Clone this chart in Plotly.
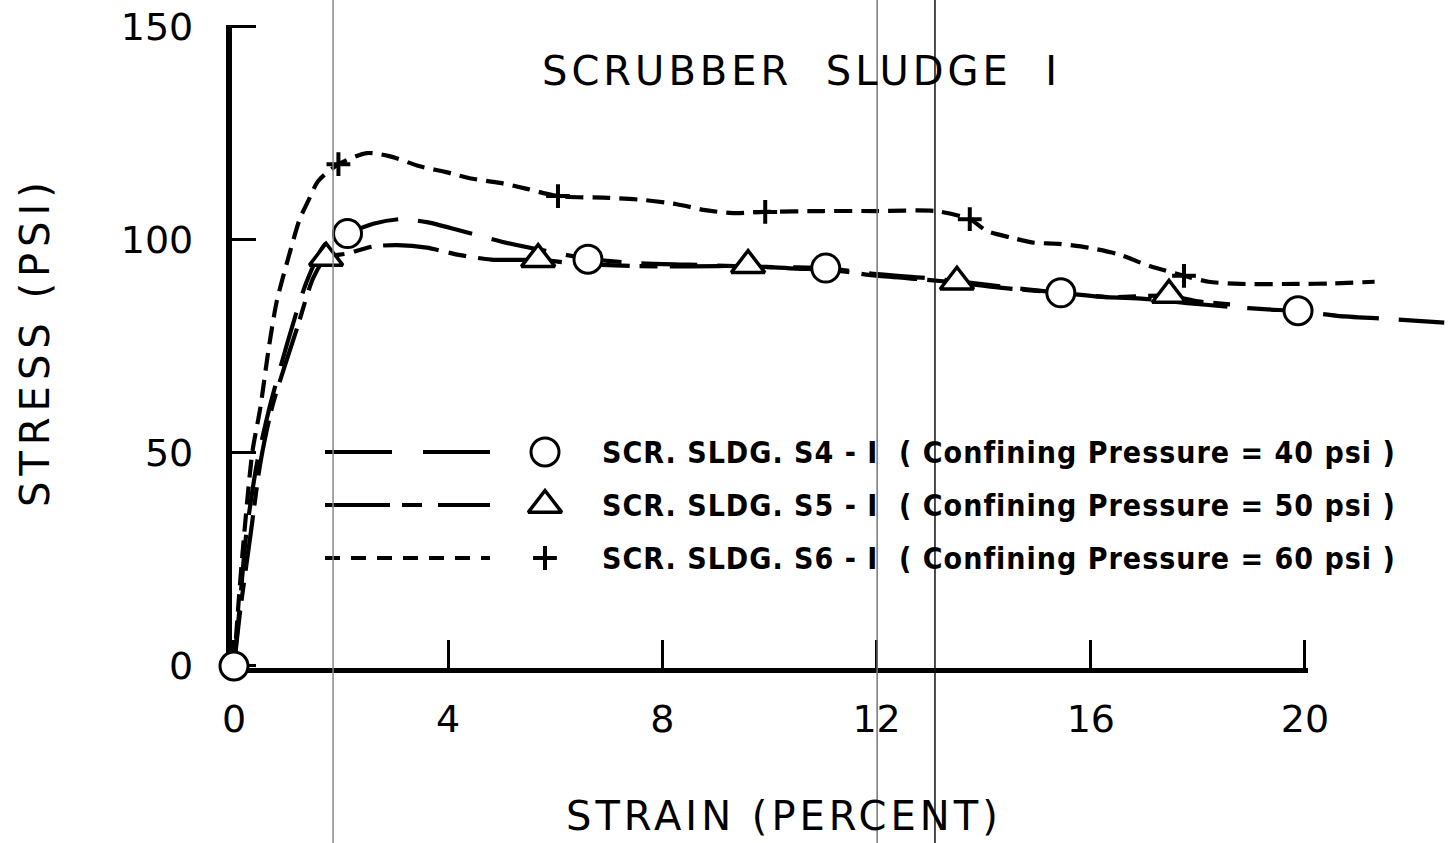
import plotly.graph_objects as go

# ---------------- data ----------------
title_text = "SCRUBBER  SLUDGE  I"
x_title = "STRAIN (PERCENT)"
y_title = "STRESS (PSI)"

x_ticks = [0, 4, 8, 12, 16, 20]
x_tick_labels = ["0", "4", "8", "12", "16", "20"]
y_ticks = [0, 50, 100, 150]
y_tick_labels = ["0", "50", "100", "150"]

# S4-1 (confining pressure 40 psi) - long dash, circles
s4_strain = [0, 0.1, 0.22, 0.42, 0.65, 1.0, 1.35, 1.7, 2.12, 2.6, 3.1, 3.6, 4.2, 5.0, 5.8,
             6.6, 7.5, 8.5, 9.5, 10.3, 11.05, 12.0, 13.0, 14.0, 14.8, 15.44, 16.3, 17.0,
             17.8, 18.6, 19.3, 19.87, 20.6, 21.5, 22.6]
s4_stress = [0, 13, 30, 47, 60, 76, 90, 99, 101.5, 103.8, 104.9, 104.2, 102.3, 99.6, 97.5,
             95.6, 94.6, 94.2, 93.8, 93.6, 93.4, 92.0, 91.0, 89.6, 88.4, 87.6, 86.6, 86.2,
             85.2, 84.3, 83.7, 83.3, 82.2, 81.5, 80.6]
s4_mark_strain = [0, 2.12, 6.61, 11.05, 15.44, 19.87]
s4_mark_stress = [0, 101.5, 95.5, 93.4, 87.6, 83.4]

# S5-1 (confining pressure 50 psi) - long/short dash, triangles
s5_strain = [0, 0.11, 0.32, 0.49, 0.71, 1.18, 1.48, 1.72, 2.1, 2.6, 3.05, 3.6, 4.2, 4.8,
             5.68, 6.5, 7.5, 8.5, 9.6, 10.5, 11.05, 12.0, 13.0, 13.5, 14.3, 15.44, 16.3,
             17.46, 18.0, 18.6]
s5_stress = [0, 12.4, 31.9, 47.5, 60.7, 79.4, 91.1, 95.8, 96.8, 98.5, 98.8, 98.2, 96.5, 95.4,
             95.3, 94.4, 93.9, 93.8, 93.9, 93.3, 93.1, 91.6, 90.6, 90.0, 88.8, 87.6, 86.6,
             86.9, 85.6, 84.9]
s5_mark_strain = [1.72, 5.68, 9.6, 13.5, 17.46]
s5_mark_stress = [95.8, 95.5, 94.1, 90.2, 87.1]

# S6-1 (confining pressure 60 psi) - short dash, crosses
s6_strain = [0, 0.08, 0.17, 0.34, 0.49, 0.65, 0.8, 1.05, 1.23, 1.38, 1.57, 1.95, 2.48, 2.9,
             3.47, 3.94, 4.4, 4.97, 5.47, 6.05, 7.0, 7.64, 8.27, 8.8, 9.32, 9.92, 11.0, 12.0,
             13.1, 13.74, 14.06, 14.5, 14.92, 15.4, 15.95, 16.5, 17.1, 17.74, 18.2, 18.8,
             19.9, 20.5, 21.3]
s6_stress = [0, 14, 28, 50, 60.5, 74.7, 85.7, 97.4, 105, 109, 113.8, 117.8, 120.4, 119.7,
             117.3, 116, 114.5, 113.4, 112, 110.3, 109.9, 109.4, 108.4, 107, 106.3, 106.6,
             106.8, 106.8, 106.8, 104.9, 102.1, 100.6, 99.4, 99.1, 98.2, 96.7, 93.9, 91.6,
             90.2, 89.7, 89.7, 89.8, 90.2]
s6_mark_strain = [1.95, 6.05, 9.92, 13.74, 17.74]
s6_mark_stress = [117.8, 110.3, 106.6, 104.9, 91.6]

legend_labels = [
    "SCR. SLDG. S4 - I  ( Confining Pressure = 40 psi )",
    "SCR. SLDG. S5 - I  ( Confining Pressure = 50 psi )",
    "SCR. SLDG. S6 - I  ( Confining Pressure = 60 psi )",
]

# scan fold lines visible on the sheet (strain positions)
fold_lines = [1.85, 12.01, 13.09]
fold_colors = ["#888888", "#777777", "#111111"]

# ---------------- layout / style ----------------
W, H = 1449, 843
X0_PX, X_PER = 234, 53.55     # pixel of strain 0, pixels per percent
Y0_PX, Y_PER = 666, 4.26      # pixel of stress 0, pixels per psi


def px2x(p):
    return (p - X0_PX) / X_PER


def py2y(p):
    return (Y0_PX - p) / Y_PER


x_lo, x_hi = px2x(0), px2x(W)
y_lo, y_hi = py2y(H), py2y(0)

# displayed frame ranges (a hair wider so the end ticks are kept)
fx_range = [-0.04, 20.05]
fy_range = [-0.4, 150.4]

FONT = "DejaVu Sans"
LW = 4.2
DX, DY = "x2", "y2"   # data subplot (drawn above the frame subplot)

series = [
    dict(x=s4_strain, y=s4_stress, mx=s4_mark_strain, my=s4_mark_stress,
         dash="56px,20px", legdash="67px,31px",
         marker=dict(symbol="circle", size=28, color="white", line=dict(color="black", width=3))),
    dict(x=s5_strain, y=s5_stress, mx=s5_mark_strain, my=s5_mark_stress,
         dash="56px,10px,18px,12px", legdash="65px,12px,20px,16px",
         marker=dict(symbol="triangle-up", size=29, color="white", line=dict(color="black", width=3.5))),
    dict(x=s6_strain, y=s6_stress, mx=s6_mark_strain, my=s6_mark_stress,
         dash="18px,9px", legdash="15px,11px",
         marker=dict(symbol="cross-thin", size=17, color="black", line=dict(color="black", width=4))),
]

fig = go.Figure()

# displayed axes frame (own subplot, limited to the 0-20 / 0-150 box)
fig.add_trace(go.Scatter(x=[0], y=[0], xaxis="x", yaxis="y", mode="markers",
                         marker=dict(opacity=0), showlegend=False, hoverinfo="skip"))

for s in series:
    fig.add_trace(go.Scatter(x=s["x"], y=s["y"], xaxis=DX, yaxis=DY, mode="lines",
                             line=dict(color="black", width=LW, dash=s["dash"], shape="spline", smoothing=0.7),
                             showlegend=False, hoverinfo="skip"))
for s in series:
    fig.add_trace(go.Scatter(x=s["mx"], y=s["my"], xaxis=DX, yaxis=DY, mode="markers", marker=s["marker"],
                             showlegend=False, hoverinfo="skip"))

# hand-drawn legend block
leg_rows_px = [452, 505, 558]
leg_line_px = (325, 490)
leg_sym_px = 545
leg_text_px = 600
annotations = []
for s, row, lab in zip(series, leg_rows_px, legend_labels):
    yy = py2y(row)
    fig.add_trace(go.Scatter(x=[px2x(leg_line_px[0]), px2x(leg_line_px[1])], y=[yy, yy],
                             xaxis=DX, yaxis=DY, mode="lines",
                             line=dict(color="black", width=LW, dash=s["legdash"]),
                             showlegend=False, hoverinfo="skip"))
    fig.add_trace(go.Scatter(x=[px2x(leg_sym_px)], y=[yy], xaxis=DX, yaxis=DY, mode="markers",
                             marker=s["marker"], showlegend=False, hoverinfo="skip"))
    annotations.append(dict(x=px2x(leg_text_px), y=yy, xref=DX, yref=DY, showarrow=False,
                            xanchor="left", yanchor="middle",
                            text='<span style="letter-spacing:1px">' + lab + '</span>',
                            font=dict(family="DejaVu Sans Condensed", size=30, color="black", weight="bold")))

annotations += [
    dict(x=px2x(801), y=py2y(71), xref=DX, yref=DY, showarrow=False, xanchor="center", yanchor="middle",
         text='<span style="letter-spacing:4px">' + title_text + '</span>',
         font=dict(family=FONT, size=40, color="black")),
    dict(x=px2x(784), y=py2y(816), xref=DX, yref=DY, showarrow=False, xanchor="center", yanchor="middle",
         text='<span style="letter-spacing:4px">' + x_title + '</span>',
         font=dict(family=FONT, size=40, color="black")),
    dict(x=px2x(35), y=py2y(342), xref=DX, yref=DY, showarrow=False, xanchor="center", yanchor="middle",
         textangle=-90,
         text='<span style="letter-spacing:6px">' + y_title + '</span>',
         font=dict(family=FONT, size=40, color="black")),
]

shapes = [dict(type="line", xref=DX, yref="paper", x0=fx, x1=fx, y0=0, y1=1,
               line=dict(color=c, width=1.5), layer="above")
          for fx, c in zip(fold_lines, fold_colors)]

fig.update_layout(
    width=W, height=H,
    margin=dict(l=0, r=0, t=0, b=0, autoexpand=False),
    paper_bgcolor="white", plot_bgcolor="rgba(0,0,0,0)",
    showlegend=False,
    xaxis2=dict(range=[x_lo, x_hi], domain=[0, 1], anchor="y2", visible=False, fixedrange=True),
    yaxis2=dict(range=[y_lo, y_hi], domain=[0, 1], anchor="x2", visible=False, fixedrange=True),
    xaxis=dict(domain=[(X0_PX + fx_range[0] * X_PER) / W, (X0_PX + fx_range[1] * X_PER) / W],
               range=fx_range, anchor="y",
               showline=True, linecolor="black", linewidth=5, automargin=False,
               ticks="inside", ticklen=28, tickwidth=3, tickcolor="black",
               tickvals=x_ticks, ticktext=x_tick_labels, ticklabelstandoff=14,
               tickfont=dict(family=FONT, size=38, color="black"),
               showgrid=False, zeroline=False, fixedrange=True),
    yaxis=dict(domain=[(H - Y0_PX + fy_range[0] * Y_PER) / H, (H - Y0_PX + fy_range[1] * Y_PER) / H],
               range=fy_range, anchor="x",
               showline=True, linecolor="black", linewidth=6, automargin=False,
               ticks="inside", ticklen=24, tickwidth=3, tickcolor="black",
               tickvals=y_ticks, ticktext=y_tick_labels, ticklabelstandoff=25,
               tickfont=dict(family=FONT, size=38, color="black"),
               showgrid=False, zeroline=False, fixedrange=True),
    annotations=annotations,
    shapes=shapes,
)

fig.write_html("out.html", config={"displayModeBar": False},
               post_script="document.body.style.margin='0px';")
